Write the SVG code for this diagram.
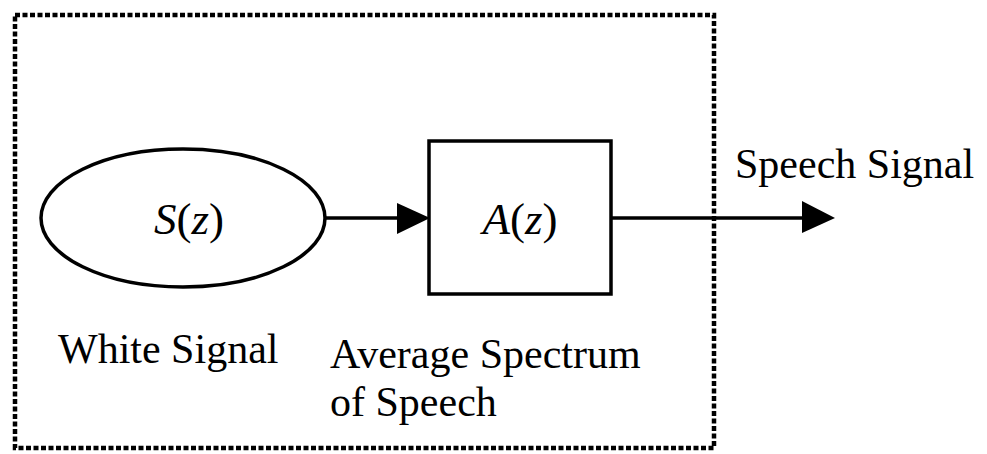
<svg xmlns="http://www.w3.org/2000/svg" width="987" height="454" viewBox="0 0 987 454">
<defs>
<style>
.t{font-family:"Liberation Serif","Times New Roman",serif;font-size:42px;fill:#000}
.m{font-family:"Liberation Serif","Times New Roman",serif;font-size:45px;fill:#000}
.i{font-style:italic}
.s{fill:none;stroke:#000;stroke-width:3.5}
.c{fill:none;stroke:#000;stroke-width:3.5}
</style>
</defs>
<rect width="987" height="454" fill="#fff"/>
<g id="frame">
<rect x="15" y="15" width="699" height="433" fill="none" stroke="#000" stroke-width="4.5" stroke-dasharray="5 2.5"/>
</g>
<g id="source">
<ellipse cx="183" cy="218" rx="142" ry="69" class="s"/>
<text x="189" y="234" class="m" text-anchor="middle"><tspan class="i">S</tspan>(<tspan class="i">z</tspan>)</text>
<text x="58" y="363" class="t">White Signal</text>
</g>
<g id="filter">
<rect x="429" y="141" width="182" height="153" class="s"/>
<text x="520" y="234" class="m" text-anchor="middle"><tspan class="i">A</tspan>(<tspan class="i">z</tspan>)</text>
<text x="330" y="368" class="t">Average Spectrum</text>
<text x="330" y="416" class="t">of Speech</text>
</g>
<g id="output">
<text x="735" y="178" class="t">Speech Signal</text>
</g>
<g id="connectors">
<line x1="326" y1="218" x2="397" y2="218" class="c"/>
<path d="M397,203 L430,218 L397,234 Z" fill="#000"/>
<line x1="611" y1="218" x2="802" y2="218" class="c"/>
<path d="M802,201 L835,218 L802,233 Z" fill="#000"/>
</g>
</svg>
